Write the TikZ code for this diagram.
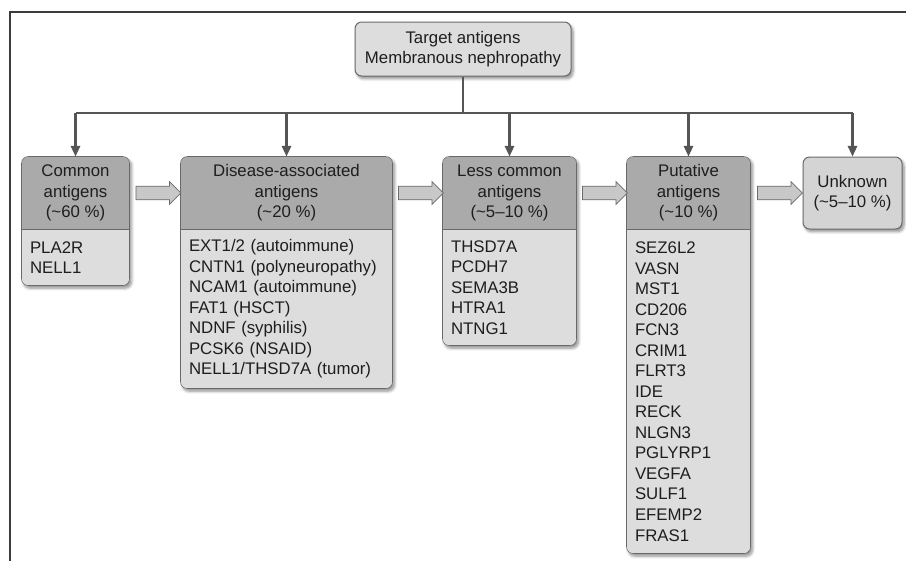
\documentclass[tikz,border=0pt]{standalone}
\usepackage{fontspec}
\setmainfont{Liberation Sans}
\usetikzlibrary{arrows.meta,shapes.arrows,shadows.blur,backgrounds,calc}

\definecolor{hdgray}{RGB}{170,170,170}
\definecolor{bdgray}{RGB}{221,221,221}
\definecolor{unkgray}{RGB}{212,212,212}
\definecolor{linegray}{RGB}{85,85,85}
\definecolor{edgegray}{RGB}{105,105,105}
\definecolor{txtgray}{RGB}{30,30,30}
\definecolor{arrowfill}{RGB}{200,200,200}
\definecolor{framegray}{RGB}{60,60,60}

\tikzset{every picture/.style={line width=0.75pt}}
\tikzset{
  boxtext/.style={font=\fontsize{12.6}{15.4}\selectfont, text=txtgray},
  headbox/.style={boxtext, inner sep=0pt, minimum height=54pt, align=center},
  listbox/.style={boxtext, anchor=north, inner xsep=6pt, inner ysep=0pt, align=left},
  softshadow/.style={blur shadow={shadow xshift=1.5pt, shadow yshift=-2pt, shadow blur steps=6, shadow opacity=45}},
  roundbox/.style={boxtext, draw=edgegray, rounded corners=5pt, align=center, inner sep=0pt, softshadow},
  trunk/.style={draw=linegray, line width=1.6pt},
  branch/.style={trunk, -{Triangle[length=8pt,width=7pt]}},
  fatarrow/.style={single arrow, draw=edgegray, fill=arrowfill, line width=0.6pt, minimum height=33.75pt,
    minimum width=0pt, inner xsep=0pt, inner ysep=4.8pt, single arrow head extend=3.4pt, single arrow head indent=0pt}
}

\begin{document}
\begin{tikzpicture}[x=0.75pt,y=0.75pt,yscale=-1,xscale=1]
\path[use as bounding box] (0,0) rectangle (906,561);

% frame
\draw[framegray, line width=1.5pt] (906,12) -- (10,12) -- (10,561);

% Text Node
\node[roundbox, fill=bdgray, minimum width=162pt, minimum height=40.5pt] (target) at (463,49) {Target antigens\\Membranous nephropathy};

% headers
\node[headbox, minimum width=80.25pt] (common) at (75.5,193) {Common\\antigens\\(\textasciitilde60 \%)};
\node[headbox, minimum width=158.25pt] (disease) at (286.5,193) {Disease-associated\\antigens\\(\textasciitilde20 \%)};
\node[headbox, minimum width=99.75pt] (less) at (509.5,193) {Less common\\antigens\\(\textasciitilde5–10 \%)};
\node[headbox, minimum width=92.25pt] (putative) at (688.5,193) {Putative\\antigens\\(\textasciitilde10 \%)};
\node[roundbox, fill=unkgray, minimum width=74.25pt, minimum height=54pt] (unknown) at (852.5,193) {Unknown\\(\textasciitilde5–10 \%)};

% lists
\node[listbox, text width=68.25pt, minimum height=41.25pt] (common-list) at (common.south) {PLA2R\\NELL1};
\node[listbox, text width=146.25pt, minimum height=118.5pt] (disease-list) at (disease.south) {EXT1/2 (autoimmune)\\CNTN1 (polyneuropathy)\\NCAM1 (autoimmune)\\FAT1 (HSCT)\\NDNF (syphilis)\\PCSK6 (NSAID)\\NELL1/THSD7A (tumor)};
\node[listbox, text width=87.75pt, minimum height=86.25pt] (less-list) at (less.south) {THSD7A\\PCDH7\\SEMA3B\\HTRA1\\NTNG1};
\node[listbox, text width=80.25pt, minimum height=242.25pt] (putative-list) at (putative.south) {SEZ6L2\\VASN\\MST1\\CD206\\FCN3\\CRIM1\\FLRT3\\IDE\\RECK\\NLGN3\\PGLYRP1\\VEGFA\\SULF1\\EFEMP2\\FRAS1};

% box outlines and fills
\begin{scope}[on background layer]
\foreach \n in {common,disease,less,putative}{
  \path[rounded corners=5pt, softshadow] (\n.north west) rectangle (\n-list.south east);
  \begin{scope}
    \clip[rounded corners=5pt] (\n.north west) rectangle (\n-list.south east);
    \fill[hdgray] (\n.north west) rectangle (\n.south east);
    \fill[bdgray] (\n-list.north west) rectangle (\n-list.south east);
  \end{scope}
  \draw[edgegray, rounded corners=5pt] (\n.north west) rectangle (\n-list.south east);
  \draw[edgegray] (\n.south west) -- (\n.south east);
}
\end{scope}

% tree
\coordinate (hub) at (463,113);
\draw[trunk] (target.south) -- (hub);
\draw[trunk] (common.north |- hub) -- (unknown.north |- hub);
\foreach \n in {common,disease,less,putative,unknown}
  \draw[branch] (\n.north |- hub) -- (\n.north);

% block arrows
\node[fatarrow] (step1) at ($(common.east)!0.5!(disease.west)$) {};
\node[fatarrow] (step2) at ($(disease.east)!0.5!(less.west)$) {};
\node[fatarrow] (step3) at ($(less.east)!0.5!(putative.west)$) {};
\node[fatarrow] (step4) at ($(putative.east)!0.5!(unknown.west)$) {};

\end{tikzpicture}
\end{document}
